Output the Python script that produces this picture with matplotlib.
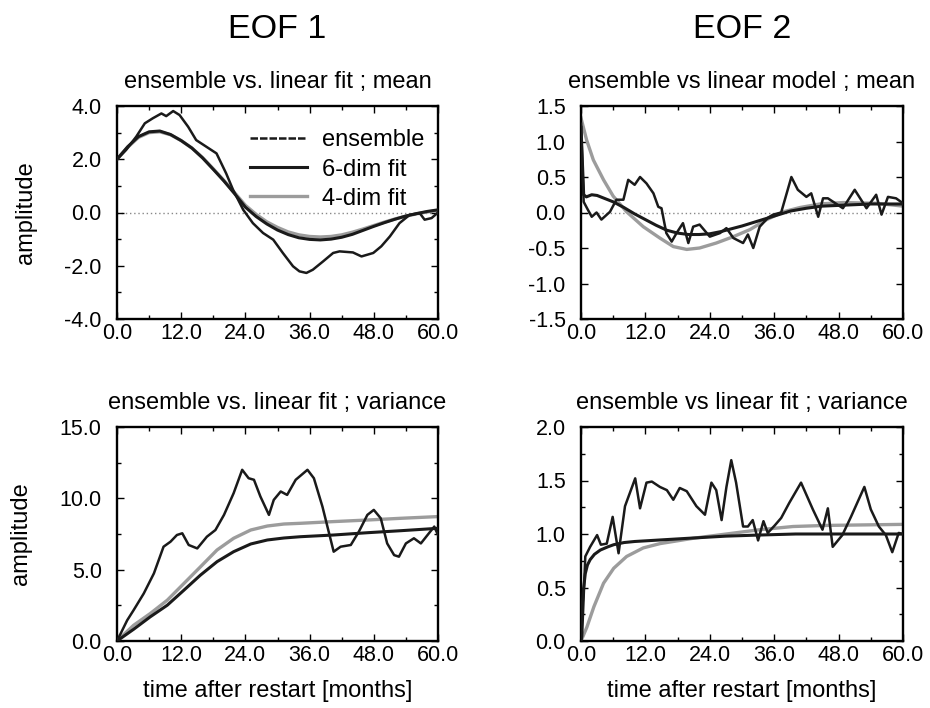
import matplotlib
matplotlib.use("Agg")
import matplotlib.pyplot as plt
from matplotlib.lines import Line2D
from matplotlib.ticker import MultipleLocator, FormatStrFormatter

plt.rcParams['font.family'] = ['Liberation Sans', 'DejaVu Sans']

# ---- EOF 1, mean ----
t_ens1 = [0, 1.7, 3.6, 5.2, 6.7, 8.3, 9.2, 10.5, 11.7, 13.3, 14.8, 16.7, 18.6, 20.4, 21.7,
          23.6, 25.4, 27.3, 29.2, 31.0, 32.9, 34.1, 35.4, 36.6, 38.5, 40.4, 41.6, 44.1,
          45.7, 47.9, 49.4, 51.0, 52.8, 54.7, 56.6, 57.5, 58.8, 60]
ens1 = [2.0, 2.35, 2.85, 3.35, 3.54, 3.72, 3.62, 3.81, 3.66, 3.22, 2.72, 2.47, 2.22, 1.47, 0.85,
        0.10, -0.40, -0.77, -1.02, -1.52, -2.02, -2.21, -2.27, -2.15, -1.84, -1.52, -1.46, -1.50,
        -1.65, -1.52, -1.27, -0.90, -0.40, -0.09, -0.03, -0.27, -0.21, 0.0]
t_fit1 = list(range(0, 61, 2))
fit6_1 = [2.0, 2.47, 2.85, 3.03, 3.06, 2.93, 2.70, 2.42, 2.05, 1.62, 1.18, 0.70, 0.20, -0.15,
          -0.43, -0.66, -0.83, -0.95, -1.01, -1.03, -1.00, -0.93, -0.82, -0.67, -0.52, -0.38,
          -0.25, -0.13, -0.04, 0.04, 0.10]
fit4_1 = [2.0, 2.45, 2.82, 3.00, 3.03, 2.92, 2.70, 2.42, 2.06, 1.64, 1.20, 0.74, 0.27, -0.07,
          -0.35, -0.56, -0.73, -0.84, -0.90, -0.92, -0.90, -0.84, -0.74, -0.62, -0.49, -0.36,
          -0.24, -0.14, -0.05, 0.02, 0.07]

# ---- EOF 2, mean ----
t_ens2 = [0, 0.5, 1.2, 2.0, 2.9, 3.8, 5.4, 6.6, 7.9, 8.8, 10.0, 11.0, 12.2, 13.5, 14.4, 15.0,
          15.9, 16.9, 17.8, 19.0, 20.0, 20.9, 22.1, 24.0, 25.9, 27.1, 28.4, 30.2, 31.1, 32.1,
          33.3, 34.9, 35.8, 37.3, 39.2, 40.4, 42.0, 42.9, 44.2, 45.1, 46.0, 48.8, 51.0, 53.2,
          55.0, 56.0, 57.2, 58.7, 60.0]
ens2 = [1.25, 0.15, 0.05, -0.06, 0.0, -0.10, 0.01, 0.18, 0.18, 0.46, 0.39, 0.50, 0.41, 0.27,
        0.08, 0.06, -0.29, -0.41, -0.29, -0.15, -0.43, -0.20, -0.17, -0.34, -0.29, -0.22,
        -0.36, -0.43, -0.31, -0.50, -0.20, -0.07, -0.03, 0.0, 0.50, 0.32, 0.22, 0.27, -0.06,
        0.20, 0.20, 0.06, 0.32, 0.06, 0.25, -0.03, 0.22, 0.20, 0.13]
t_fit6_2 = [0, 0.5, 1, 2, 3, 4, 6, 8, 10, 12, 14, 16, 18, 20, 22, 24, 26, 28, 30, 33, 36, 39,
            42, 45, 48, 51, 54, 57, 60]
fit6_2 = [1.2, 0.25, 0.22, 0.25, 0.24, 0.21, 0.15, 0.07, -0.02, -0.10, -0.18, -0.25, -0.29,
          -0.31, -0.31, -0.30, -0.27, -0.23, -0.19, -0.12, -0.05, 0.02, 0.06, 0.09, 0.10, 0.11,
          0.12, 0.12, 0.12]
t_fit4_2 = [0, 1.05, 2.3, 4.2, 6.0, 8.5, 11.6, 14.7, 17.2, 19.7, 22.1, 25.2, 28.4, 31.5, 34.6,
            37.7, 40.8, 44.5, 48.8, 55.0, 60.0]
fit4_2 = [1.33, 1.02, 0.74, 0.46, 0.23, 0.01, -0.20, -0.36, -0.48, -0.52, -0.50, -0.43, -0.34,
          -0.24, -0.10, 0.01, 0.07, 0.12, 0.14, 0.13, 0.09]

# ---- EOF 1, variance ----
t_ens3 = [0, 1.9, 3.1, 5.0, 6.9, 8.7, 10.0, 11.2, 12.2, 13.4, 15.0, 16.8, 18.4, 20.0, 21.8,
          23.4, 24.6, 25.6, 26.8, 28.4, 29.3, 30.6, 31.8, 33.4, 35.6, 36.8, 38.4, 40.5, 41.8,
          43.7, 45.2, 46.8, 48.0, 49.3, 50.5, 51.8, 52.7, 54.0, 55.5, 56.8, 58.3, 59.3, 60.0]
ens3 = [0.0, 1.45, 2.16, 3.33, 4.74, 6.61, 6.96, 7.43, 7.55, 6.73, 6.49, 7.31, 7.78, 8.84,
        10.36, 12.0, 11.41, 11.30, 10.13, 8.84, 9.89, 10.48, 10.24, 11.30, 12.0, 11.41, 9.42,
        6.26, 6.61, 6.73, 7.66, 8.84, 9.19, 8.60, 6.84, 6.02, 5.91, 6.84, 7.20, 6.84, 7.55,
        8.02, 7.43]
t_fit3 = [0, 3.1, 6.2, 9.4, 12.5, 15.6, 18.7, 21.8, 25.0, 28.1, 31.2, 34.3, 40.5, 46.8, 53.0, 60.0]
fit6_3 = [0.0, 0.82, 1.69, 2.51, 3.56, 4.62, 5.56, 6.26, 6.80, 7.08, 7.22, 7.31, 7.43, 7.59,
          7.73, 7.90]
fit4_3 = [0.0, 1.10, 1.92, 2.86, 4.03, 5.20, 6.38, 7.20, 7.78, 8.06, 8.20, 8.25, 8.37, 8.48,
          8.60, 8.72]

# ---- EOF 2, variance ----
t_ens4 = [0, 0.2, 0.8, 1.7, 3.0, 3.7, 4.8, 5.9, 7.0, 8.2, 10.1, 11.0, 12.2, 13.2, 14.7, 16.0,
          17.2, 18.4, 19.7, 21.5, 23.1, 24.3, 25.2, 26.2, 27.1, 28.0, 28.9, 30.2, 31.1, 32.0,
          33.0, 34.0, 34.8, 36.1, 37.3, 38.8, 41.0, 43.2, 45.0, 46.0, 46.9, 48.7, 50.3, 52.8,
          54.0, 55.5, 56.8, 58.0, 59.2, 60.0]
ens4 = [0.0, 0.04, 0.79, 0.88, 0.99, 0.90, 0.91, 1.16, 0.82, 1.26, 1.52, 1.24, 1.48, 1.49,
        1.44, 1.41, 1.32, 1.43, 1.40, 1.26, 1.18, 1.48, 1.41, 1.13, 1.44, 1.69, 1.48, 1.07,
        1.07, 1.13, 0.94, 1.12, 1.01, 1.08, 1.15, 1.29, 1.48, 1.23, 1.04, 1.24, 0.88, 0.99,
        1.16, 1.44, 1.23, 1.07, 0.99, 0.83, 1.01, 1.0]
t_fit6_4 = [0, 0.2, 0.5, 0.8, 1.2, 1.7, 2.5, 3.6, 5, 6.1, 8, 10, 15, 20, 27, 33, 40, 50, 60]
fit6_4 = [0.0, 0.32, 0.50, 0.63, 0.71, 0.76, 0.81, 0.85, 0.88, 0.90, 0.92, 0.93, 0.945, 0.96,
          0.98, 0.99, 1.0, 1.0, 1.0]
t_fit4_4 = [0, 1.1, 2.4, 4.2, 6.1, 8.5, 11.6, 14.7, 20.9, 27.1, 33.3, 39.5, 45.6, 60.0]
fit4_4 = [0.0, 0.13, 0.32, 0.54, 0.68, 0.79, 0.87, 0.91, 0.96, 1.0, 1.04, 1.07, 1.08, 1.09]

titles = ["ensemble vs. linear fit ; mean", "ensemble vs linear model ; mean",
          "ensemble vs. linear fit ; variance", "ensemble vs linear fit ; variance"]
ylims = [(-4, 4), (-1.5, 1.5), (0, 15), (0, 2)]
ymajor = [2.0, 0.5, 5.0, 0.5]
yminor = [1.0, None, 2.5, 0.25]

BLACK = '#1a1a1a'
GRAY = '#9c9c9c'

fig = plt.figure(figsize=(9.3, 7.08), dpi=100)
W, H = 930, 708
boxes = [(117, 106, 321, 213), (581, 106, 322, 213), (117, 427, 321, 214), (581, 427, 322, 214)]
axes = [fig.add_axes([x / W, 1 - (y + h) / H, w / W, h / H]) for x, y, w, h in boxes]

panels = [
    (t_ens1, ens1, t_fit1, fit6_1, t_fit1, fit4_1),
    (t_ens2, ens2, t_fit6_2, fit6_2, t_fit4_2, fit4_2),
    (t_ens3, ens3, t_fit3, fit6_3, t_fit3, fit4_3),
    (t_ens4, ens4, t_fit6_4, fit6_4, t_fit4_4, fit4_4),
]

for i, ax in enumerate(axes):
    te, e, t6, f6, t4, f4 = panels[i]
    if i < 2:
        ax.axhline(0, color='#888888', ls=(0, (1, 2)), lw=1.0, zorder=1)
    ax.plot(t4, f4, color=GRAY, lw=2.4, zorder=2)
    ax.plot(t6, f6, color=BLACK, lw=2.2, zorder=3)
    ax.plot(te, e, color=BLACK, lw=1.8, zorder=4)
    ax.set_xlim(0, 60)
    ax.set_ylim(*ylims[i])
    ax.xaxis.set_major_locator(MultipleLocator(12))
    ax.xaxis.set_minor_locator(MultipleLocator(6))
    ax.yaxis.set_major_locator(MultipleLocator(ymajor[i]))
    if yminor[i]:
        ax.yaxis.set_minor_locator(MultipleLocator(yminor[i]))
    ax.xaxis.set_major_formatter(FormatStrFormatter('%.1f'))
    ax.yaxis.set_major_formatter(FormatStrFormatter('%.1f'))
    ax.tick_params(which='both', direction='in', top=True, right=True, width=1.0)
    ax.tick_params(which='major', length=5)
    ax.tick_params(which='minor', length=3)
    ax.tick_params(axis='x', which='major', labelsize=15.5, pad=3)
    ax.tick_params(axis='y', which='major', labelsize=15.5, pad=11)
    for s in ax.spines.values():
        s.set_linewidth(1.7)
    ax.set_title(titles[i], fontsize=17, pad=13)
    if i % 2 == 0:
        ax.set_ylabel("amplitude", fontsize=17, labelpad=20)
    if i >= 2:
        ax.set_xlabel("time after restart [months]", fontsize=17, labelpad=10)

handles = [Line2D([], [], color=BLACK, lw=1.8, ls=(0, (3, 0.8))),
           Line2D([], [], color=BLACK, lw=2.2),
           Line2D([], [], color=GRAY, lw=2.4)]
axes[0].legend(handles, ["ensemble", "6-dim fit", "4-dim fit"], loc='upper left',
               bbox_to_anchor=(0.415, 0.89), frameon=False, fontsize=17, handlelength=2.4,
               handletextpad=0.65, labelspacing=0.3, borderpad=0, borderaxespad=0)

fig.text(277 / W, 1 - 30 / H, "EOF 1", fontsize=24.5, ha='center', va='center')
fig.text(742 / W, 1 - 30 / H, "EOF 2", fontsize=24.5, ha='center', va='center')

fig.savefig("out.png", dpi=100)
